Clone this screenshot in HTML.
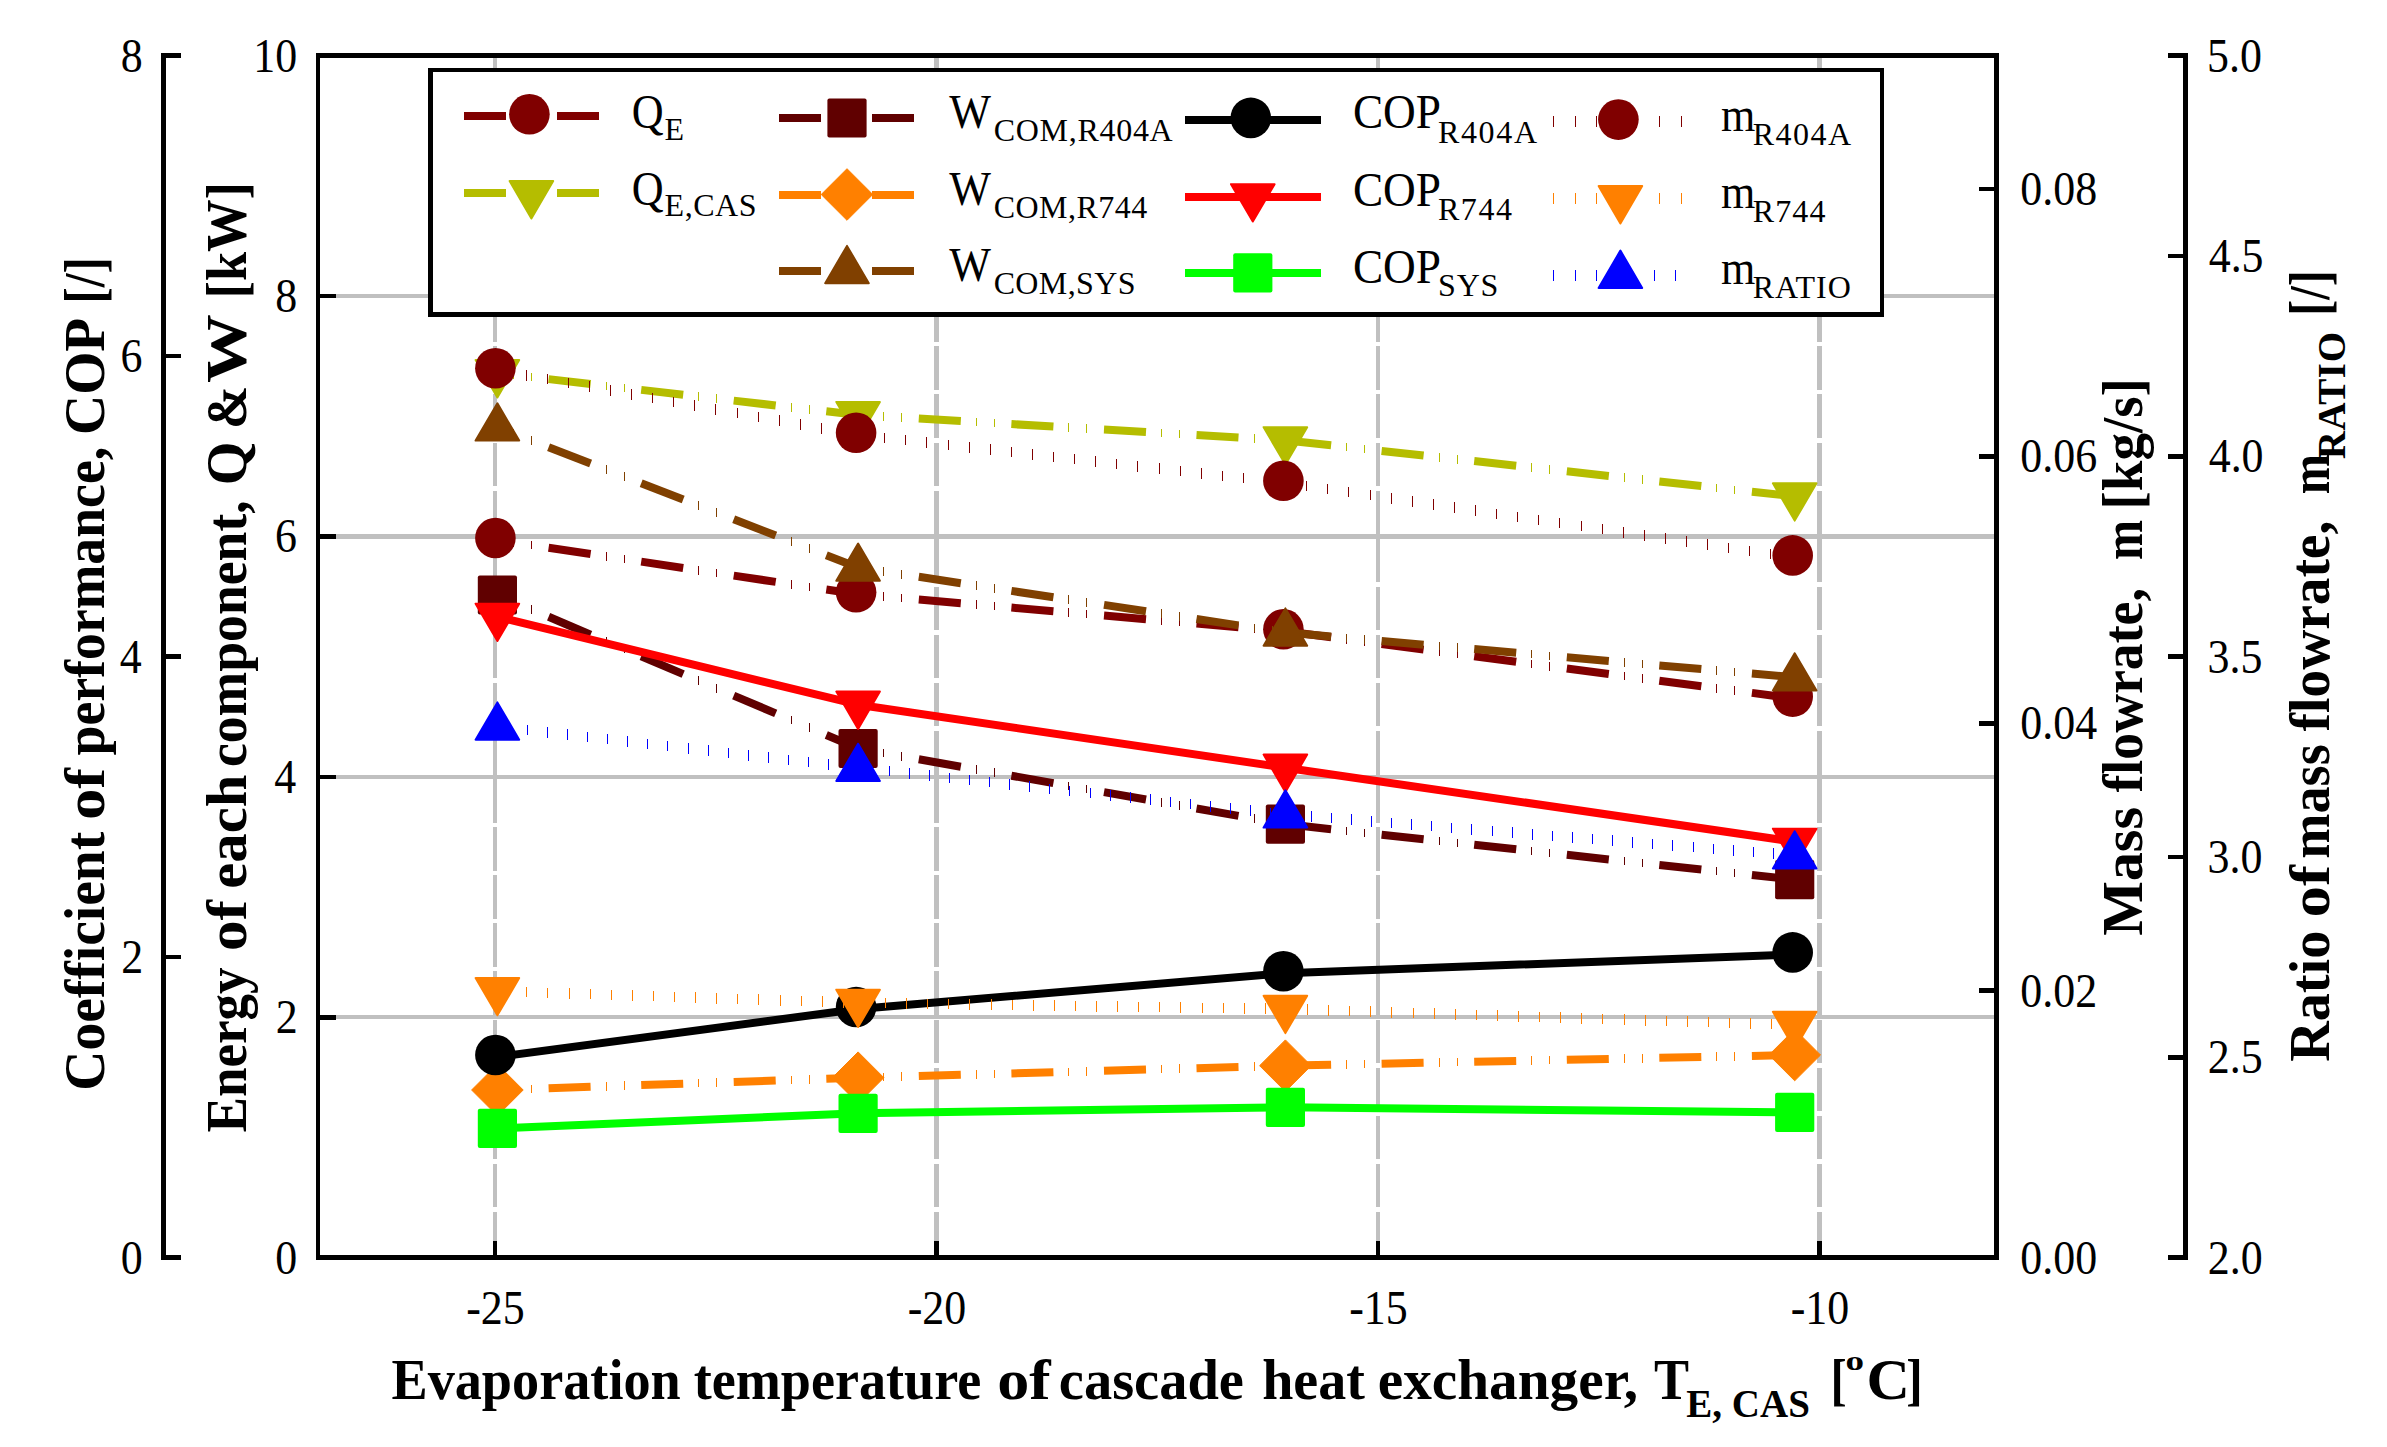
<!DOCTYPE html>
<html lang="en"><head><meta charset="utf-8"><title>Cascade refrigeration performance chart</title>
<style>html,body{margin:0;padding:0;background:#fff}svg{display:block}text{white-space:pre}</style></head>
<body>
<svg width="2387" height="1447" viewBox="0 0 2387 1447" font-family="'Liberation Serif', serif" fill="#000">
<rect x="0" y="0" width="2387" height="1447" fill="#fff"/>
<g shape-rendering="crispEdges">
<line x1="318.0" x2="1996.5" y1="1017.26" y2="1017.26" stroke="#c0c0c0" stroke-width="4.4"/>
<line x1="318.0" x2="1996.5" y1="776.82" y2="776.82" stroke="#c0c0c0" stroke-width="4.4"/>
<line x1="318.0" x2="1996.5" y1="536.38" y2="536.38" stroke="#c0c0c0" stroke-width="4.4"/>
<line x1="318.0" x2="1996.5" y1="295.94" y2="295.94" stroke="#c0c0c0" stroke-width="4.4"/>
<line x1="495.0" x2="495.0" y1="57.80" y2="1257.70" stroke="#c0c0c0" stroke-width="4.2" stroke-dasharray="43.488 4.6"/>
<line x1="936.5" x2="936.5" y1="57.80" y2="1257.70" stroke="#c0c0c0" stroke-width="4.2" stroke-dasharray="43.488 4.6"/>
<line x1="1378.0" x2="1378.0" y1="57.80" y2="1257.70" stroke="#c0c0c0" stroke-width="4.2" stroke-dasharray="43.488 4.6"/>
<line x1="1819.5" x2="1819.5" y1="57.80" y2="1257.70" stroke="#c0c0c0" stroke-width="4.2" stroke-dasharray="43.488 4.6"/>
</g>
<g>
<polyline points="497.4,540.0 498.0,540.1" fill="none" stroke="#800000" stroke-width="8.0"/><line x1="513.5" x2="513.5" y1="538.2" y2="546.7" stroke="#800000" stroke-width="1.0" shape-rendering="crispEdges"/><line x1="531.5" x2="531.5" y1="540.9" y2="549.4" stroke="#800000" stroke-width="1.0" shape-rendering="crispEdges"/><polyline points="548.6,547.7 590.6,554.0" fill="none" stroke="#800000" stroke-width="8.0"/><line x1="606.1" x2="606.1" y1="552.1" y2="560.6" stroke="#800000" stroke-width="1.0" shape-rendering="crispEdges"/><line x1="624.1" x2="624.1" y1="554.8" y2="563.3" stroke="#800000" stroke-width="1.0" shape-rendering="crispEdges"/><polyline points="641.2,561.6 683.2,568.0" fill="none" stroke="#800000" stroke-width="8.0"/><line x1="698.7" x2="698.7" y1="566.0" y2="574.5" stroke="#800000" stroke-width="1.0" shape-rendering="crispEdges"/><line x1="716.7" x2="716.7" y1="568.8" y2="577.3" stroke="#800000" stroke-width="1.0" shape-rendering="crispEdges"/><polyline points="733.7,575.6 775.7,581.9" fill="none" stroke="#800000" stroke-width="8.0"/><line x1="791.2" x2="791.2" y1="580.0" y2="588.5" stroke="#800000" stroke-width="1.0" shape-rendering="crispEdges"/><line x1="809.2" x2="809.2" y1="582.7" y2="591.2" stroke="#800000" stroke-width="1.0" shape-rendering="crispEdges"/><polyline points="826.3,589.5 858.1,594.3 868.3,595.2" fill="none" stroke="#800000" stroke-width="8.0"/><line x1="883.8" x2="883.8" y1="592.3" y2="600.8" stroke="#800000" stroke-width="1.0" shape-rendering="crispEdges"/><line x1="901.8" x2="901.8" y1="593.8" y2="602.3" stroke="#800000" stroke-width="1.0" shape-rendering="crispEdges"/><polyline points="918.8,599.6 960.8,603.2" fill="none" stroke="#800000" stroke-width="8.0"/><line x1="976.3" x2="976.3" y1="600.3" y2="608.8" stroke="#800000" stroke-width="1.0" shape-rendering="crispEdges"/><line x1="994.3" x2="994.3" y1="601.8" y2="610.3" stroke="#800000" stroke-width="1.0" shape-rendering="crispEdges"/><polyline points="1011.4,607.6 1053.4,611.2" fill="none" stroke="#800000" stroke-width="8.0"/><line x1="1068.9" x2="1068.9" y1="608.3" y2="616.8" stroke="#800000" stroke-width="1.0" shape-rendering="crispEdges"/><line x1="1086.9" x2="1086.9" y1="609.9" y2="618.4" stroke="#800000" stroke-width="1.0" shape-rendering="crispEdges"/><polyline points="1104.0,615.6 1146.0,619.2" fill="none" stroke="#800000" stroke-width="8.0"/><line x1="1161.5" x2="1161.5" y1="616.3" y2="624.8" stroke="#800000" stroke-width="1.0" shape-rendering="crispEdges"/><line x1="1179.5" x2="1179.5" y1="617.9" y2="626.4" stroke="#800000" stroke-width="1.0" shape-rendering="crispEdges"/><polyline points="1196.5,623.6 1238.5,627.2" fill="none" stroke="#800000" stroke-width="8.0"/><line x1="1254.0" x2="1254.0" y1="624.3" y2="632.8" stroke="#800000" stroke-width="1.0" shape-rendering="crispEdges"/><line x1="1272.0" x2="1272.0" y1="625.9" y2="634.4" stroke="#800000" stroke-width="1.0" shape-rendering="crispEdges"/><polyline points="1289.1,631.8 1331.1,637.3" fill="none" stroke="#800000" stroke-width="8.0"/><line x1="1346.6" x2="1346.6" y1="635.1" y2="643.6" stroke="#800000" stroke-width="1.0" shape-rendering="crispEdges"/><line x1="1364.6" x2="1364.6" y1="637.5" y2="646.0" stroke="#800000" stroke-width="1.0" shape-rendering="crispEdges"/><polyline points="1381.6,644.0 1423.6,649.6" fill="none" stroke="#800000" stroke-width="8.0"/><line x1="1439.1" x2="1439.1" y1="647.4" y2="655.9" stroke="#800000" stroke-width="1.0" shape-rendering="crispEdges"/><line x1="1457.1" x2="1457.1" y1="649.7" y2="658.2" stroke="#800000" stroke-width="1.0" shape-rendering="crispEdges"/><polyline points="1474.2,656.2 1516.2,661.8" fill="none" stroke="#800000" stroke-width="8.0"/><line x1="1531.7" x2="1531.7" y1="659.6" y2="668.1" stroke="#800000" stroke-width="1.0" shape-rendering="crispEdges"/><line x1="1549.7" x2="1549.7" y1="662.0" y2="670.5" stroke="#800000" stroke-width="1.0" shape-rendering="crispEdges"/><polyline points="1566.8,668.5 1608.8,674.0" fill="none" stroke="#800000" stroke-width="8.0"/><line x1="1624.3" x2="1624.3" y1="671.8" y2="680.3" stroke="#800000" stroke-width="1.0" shape-rendering="crispEdges"/><line x1="1642.3" x2="1642.3" y1="674.2" y2="682.7" stroke="#800000" stroke-width="1.0" shape-rendering="crispEdges"/><polyline points="1659.3,680.7 1701.3,686.3" fill="none" stroke="#800000" stroke-width="8.0"/><line x1="1716.8" x2="1716.8" y1="684.1" y2="692.6" stroke="#800000" stroke-width="1.0" shape-rendering="crispEdges"/><line x1="1734.8" x2="1734.8" y1="686.4" y2="694.9" stroke="#800000" stroke-width="1.0" shape-rendering="crispEdges"/><polyline points="1751.9,692.9 1793.9,698.5" fill="none" stroke="#800000" stroke-width="8.0"/>
<circle cx="495.4" cy="538.0" r="20.3" fill="#800000"/>
<circle cx="856.1" cy="592.3" r="20.3" fill="#800000"/>
<circle cx="1283.4" cy="629.3" r="20.3" fill="#800000"/>
<circle cx="1792.7" cy="696.6" r="20.3" fill="#800000"/>
<polyline points="497.4,373.2 498.0,373.3" fill="none" stroke="#b5bd00" stroke-width="8.0"/><line x1="513.5" x2="513.5" y1="370.8" y2="379.3" stroke="#b5bd00" stroke-width="1.0" shape-rendering="crispEdges"/><line x1="531.5" x2="531.5" y1="372.9" y2="381.4" stroke="#b5bd00" stroke-width="1.0" shape-rendering="crispEdges"/><polyline points="548.6,379.1 590.6,384.0" fill="none" stroke="#b5bd00" stroke-width="8.0"/><line x1="606.1" x2="606.1" y1="381.5" y2="390.0" stroke="#b5bd00" stroke-width="1.0" shape-rendering="crispEdges"/><line x1="624.1" x2="624.1" y1="383.6" y2="392.1" stroke="#b5bd00" stroke-width="1.0" shape-rendering="crispEdges"/><polyline points="641.2,389.9 683.2,394.7" fill="none" stroke="#b5bd00" stroke-width="8.0"/><line x1="698.7" x2="698.7" y1="392.3" y2="400.8" stroke="#b5bd00" stroke-width="1.0" shape-rendering="crispEdges"/><line x1="716.7" x2="716.7" y1="394.4" y2="402.9" stroke="#b5bd00" stroke-width="1.0" shape-rendering="crispEdges"/><polyline points="733.7,400.6 775.7,405.5" fill="none" stroke="#b5bd00" stroke-width="8.0"/><line x1="791.2" x2="791.2" y1="403.0" y2="411.5" stroke="#b5bd00" stroke-width="1.0" shape-rendering="crispEdges"/><line x1="809.2" x2="809.2" y1="405.1" y2="413.6" stroke="#b5bd00" stroke-width="1.0" shape-rendering="crispEdges"/><polyline points="826.3,411.3 858.1,415.0 868.3,415.6" fill="none" stroke="#b5bd00" stroke-width="8.0"/><line x1="883.8" x2="883.8" y1="412.3" y2="420.8" stroke="#b5bd00" stroke-width="1.0" shape-rendering="crispEdges"/><line x1="901.8" x2="901.8" y1="413.3" y2="421.8" stroke="#b5bd00" stroke-width="1.0" shape-rendering="crispEdges"/><polyline points="918.8,418.6 960.8,421.1" fill="none" stroke="#b5bd00" stroke-width="8.0"/><line x1="976.3" x2="976.3" y1="417.8" y2="426.3" stroke="#b5bd00" stroke-width="1.0" shape-rendering="crispEdges"/><line x1="994.3" x2="994.3" y1="418.8" y2="427.3" stroke="#b5bd00" stroke-width="1.0" shape-rendering="crispEdges"/><polyline points="1011.4,424.1 1053.4,426.6" fill="none" stroke="#b5bd00" stroke-width="8.0"/><line x1="1068.9" x2="1068.9" y1="423.2" y2="431.7" stroke="#b5bd00" stroke-width="1.0" shape-rendering="crispEdges"/><line x1="1086.9" x2="1086.9" y1="424.3" y2="432.8" stroke="#b5bd00" stroke-width="1.0" shape-rendering="crispEdges"/><polyline points="1104.0,429.6 1146.0,432.0" fill="none" stroke="#b5bd00" stroke-width="8.0"/><line x1="1161.5" x2="1161.5" y1="428.7" y2="437.2" stroke="#b5bd00" stroke-width="1.0" shape-rendering="crispEdges"/><line x1="1179.5" x2="1179.5" y1="429.8" y2="438.3" stroke="#b5bd00" stroke-width="1.0" shape-rendering="crispEdges"/><polyline points="1196.5,435.0 1238.5,437.5" fill="none" stroke="#b5bd00" stroke-width="8.0"/><line x1="1254.0" x2="1254.0" y1="434.2" y2="442.7" stroke="#b5bd00" stroke-width="1.0" shape-rendering="crispEdges"/><line x1="1272.0" x2="1272.0" y1="435.3" y2="443.8" stroke="#b5bd00" stroke-width="1.0" shape-rendering="crispEdges"/><polyline points="1289.1,440.7 1331.1,445.3" fill="none" stroke="#b5bd00" stroke-width="8.0"/><line x1="1346.6" x2="1346.6" y1="442.8" y2="451.3" stroke="#b5bd00" stroke-width="1.0" shape-rendering="crispEdges"/><line x1="1364.6" x2="1364.6" y1="444.8" y2="453.3" stroke="#b5bd00" stroke-width="1.0" shape-rendering="crispEdges"/><polyline points="1381.6,450.9 1423.6,455.5" fill="none" stroke="#b5bd00" stroke-width="8.0"/><line x1="1439.1" x2="1439.1" y1="453.0" y2="461.5" stroke="#b5bd00" stroke-width="1.0" shape-rendering="crispEdges"/><line x1="1457.1" x2="1457.1" y1="455.0" y2="463.5" stroke="#b5bd00" stroke-width="1.0" shape-rendering="crispEdges"/><polyline points="1474.2,461.1 1516.2,465.7" fill="none" stroke="#b5bd00" stroke-width="8.0"/><line x1="1531.7" x2="1531.7" y1="463.2" y2="471.7" stroke="#b5bd00" stroke-width="1.0" shape-rendering="crispEdges"/><line x1="1549.7" x2="1549.7" y1="465.2" y2="473.7" stroke="#b5bd00" stroke-width="1.0" shape-rendering="crispEdges"/><polyline points="1566.8,471.3 1608.8,475.9" fill="none" stroke="#b5bd00" stroke-width="8.0"/><line x1="1624.3" x2="1624.3" y1="473.4" y2="481.9" stroke="#b5bd00" stroke-width="1.0" shape-rendering="crispEdges"/><line x1="1642.3" x2="1642.3" y1="475.4" y2="483.9" stroke="#b5bd00" stroke-width="1.0" shape-rendering="crispEdges"/><polyline points="1659.3,481.5 1701.3,486.1" fill="none" stroke="#b5bd00" stroke-width="8.0"/><line x1="1716.8" x2="1716.8" y1="483.6" y2="492.1" stroke="#b5bd00" stroke-width="1.0" shape-rendering="crispEdges"/><line x1="1734.8" x2="1734.8" y1="485.6" y2="494.1" stroke="#b5bd00" stroke-width="1.0" shape-rendering="crispEdges"/><polyline points="1751.9,491.7 1793.9,496.3" fill="none" stroke="#b5bd00" stroke-width="8.0"/>
<path d="M475.6 360.1L519.2 360.1L497.4 397.4Z" fill="#b5bd00" stroke="#b5bd00" stroke-width="2" stroke-linejoin="round"/>
<path d="M836.3 401.9L879.9 401.9L858.1 439.2Z" fill="#b5bd00" stroke="#b5bd00" stroke-width="2" stroke-linejoin="round"/>
<path d="M1263.6 427.2L1307.2 427.2L1285.4 464.5Z" fill="#b5bd00" stroke="#b5bd00" stroke-width="2" stroke-linejoin="round"/>
<path d="M1772.9 483.3L1816.5 483.3L1794.7 520.6Z" fill="#b5bd00" stroke="#b5bd00" stroke-width="2" stroke-linejoin="round"/>
<polyline points="497.4,595.0 498.0,595.3" fill="none" stroke="#600000" stroke-width="8.0"/><line x1="513.5" x2="513.5" y1="597.6" y2="606.1" stroke="#600000" stroke-width="1.0" shape-rendering="crispEdges"/><line x1="531.5" x2="531.5" y1="605.3" y2="613.8" stroke="#600000" stroke-width="1.0" shape-rendering="crispEdges"/><polyline points="548.6,616.8 590.6,634.7" fill="none" stroke="#600000" stroke-width="8.0"/><line x1="606.1" x2="606.1" y1="637.0" y2="645.5" stroke="#600000" stroke-width="1.0" shape-rendering="crispEdges"/><line x1="624.1" x2="624.1" y1="644.7" y2="653.2" stroke="#600000" stroke-width="1.0" shape-rendering="crispEdges"/><polyline points="641.2,656.2 683.2,674.1" fill="none" stroke="#600000" stroke-width="8.0"/><line x1="698.7" x2="698.7" y1="676.4" y2="684.9" stroke="#600000" stroke-width="1.0" shape-rendering="crispEdges"/><line x1="716.7" x2="716.7" y1="684.1" y2="692.6" stroke="#600000" stroke-width="1.0" shape-rendering="crispEdges"/><polyline points="733.7,695.6 775.7,713.4" fill="none" stroke="#600000" stroke-width="8.0"/><line x1="791.2" x2="791.2" y1="715.8" y2="724.3" stroke="#600000" stroke-width="1.0" shape-rendering="crispEdges"/><line x1="809.2" x2="809.2" y1="723.4" y2="731.9" stroke="#600000" stroke-width="1.0" shape-rendering="crispEdges"/><polyline points="826.3,735.0 858.1,748.5 868.3,750.3" fill="none" stroke="#600000" stroke-width="8.0"/><line x1="883.8" x2="883.8" y1="748.8" y2="757.3" stroke="#600000" stroke-width="1.0" shape-rendering="crispEdges"/><line x1="901.8" x2="901.8" y1="752.0" y2="760.5" stroke="#600000" stroke-width="1.0" shape-rendering="crispEdges"/><polyline points="918.8,759.3 960.8,766.7" fill="none" stroke="#600000" stroke-width="8.0"/><line x1="976.3" x2="976.3" y1="765.2" y2="773.7" stroke="#600000" stroke-width="1.0" shape-rendering="crispEdges"/><line x1="994.3" x2="994.3" y1="768.4" y2="776.9" stroke="#600000" stroke-width="1.0" shape-rendering="crispEdges"/><polyline points="1011.4,775.7 1053.4,783.1" fill="none" stroke="#600000" stroke-width="8.0"/><line x1="1068.9" x2="1068.9" y1="781.6" y2="790.1" stroke="#600000" stroke-width="1.0" shape-rendering="crispEdges"/><line x1="1086.9" x2="1086.9" y1="784.8" y2="793.3" stroke="#600000" stroke-width="1.0" shape-rendering="crispEdges"/><polyline points="1104.0,792.1 1146.0,799.5" fill="none" stroke="#600000" stroke-width="8.0"/><line x1="1161.5" x2="1161.5" y1="798.0" y2="806.5" stroke="#600000" stroke-width="1.0" shape-rendering="crispEdges"/><line x1="1179.5" x2="1179.5" y1="801.2" y2="809.7" stroke="#600000" stroke-width="1.0" shape-rendering="crispEdges"/><polyline points="1196.5,808.5 1238.5,815.9" fill="none" stroke="#600000" stroke-width="8.0"/><line x1="1254.0" x2="1254.0" y1="814.4" y2="822.9" stroke="#600000" stroke-width="1.0" shape-rendering="crispEdges"/><line x1="1272.0" x2="1272.0" y1="817.6" y2="826.1" stroke="#600000" stroke-width="1.0" shape-rendering="crispEdges"/><polyline points="1289.1,824.6 1331.1,829.2" fill="none" stroke="#600000" stroke-width="8.0"/><line x1="1346.6" x2="1346.6" y1="826.6" y2="835.1" stroke="#600000" stroke-width="1.0" shape-rendering="crispEdges"/><line x1="1364.6" x2="1364.6" y1="828.6" y2="837.1" stroke="#600000" stroke-width="1.0" shape-rendering="crispEdges"/><polyline points="1381.6,834.7 1423.6,839.2" fill="none" stroke="#600000" stroke-width="8.0"/><line x1="1439.1" x2="1439.1" y1="836.7" y2="845.2" stroke="#600000" stroke-width="1.0" shape-rendering="crispEdges"/><line x1="1457.1" x2="1457.1" y1="838.6" y2="847.1" stroke="#600000" stroke-width="1.0" shape-rendering="crispEdges"/><polyline points="1474.2,844.7 1516.2,849.3" fill="none" stroke="#600000" stroke-width="8.0"/><line x1="1531.7" x2="1531.7" y1="846.7" y2="855.2" stroke="#600000" stroke-width="1.0" shape-rendering="crispEdges"/><line x1="1549.7" x2="1549.7" y1="848.7" y2="857.2" stroke="#600000" stroke-width="1.0" shape-rendering="crispEdges"/><polyline points="1566.8,854.8 1608.8,859.4" fill="none" stroke="#600000" stroke-width="8.0"/><line x1="1624.3" x2="1624.3" y1="856.8" y2="865.3" stroke="#600000" stroke-width="1.0" shape-rendering="crispEdges"/><line x1="1642.3" x2="1642.3" y1="858.8" y2="867.3" stroke="#600000" stroke-width="1.0" shape-rendering="crispEdges"/><polyline points="1659.3,864.9 1701.3,869.4" fill="none" stroke="#600000" stroke-width="8.0"/><line x1="1716.8" x2="1716.8" y1="866.9" y2="875.4" stroke="#600000" stroke-width="1.0" shape-rendering="crispEdges"/><line x1="1734.8" x2="1734.8" y1="868.8" y2="877.3" stroke="#600000" stroke-width="1.0" shape-rendering="crispEdges"/><polyline points="1751.9,874.9 1793.9,879.5" fill="none" stroke="#600000" stroke-width="8.0"/>
<rect x="477.8" y="575.4" width="39.2" height="39.2" rx="2" fill="#600000"/>
<rect x="838.5" y="728.9" width="39.2" height="39.2" rx="2" fill="#600000"/>
<rect x="1265.8" y="804.6" width="39.2" height="39.2" rx="2" fill="#600000"/>
<rect x="1775.1" y="860.0" width="39.2" height="39.2" rx="2" fill="#600000"/>
<polyline points="497.4,1090.0 498.0,1090.0" fill="none" stroke="#ff8000" stroke-width="8.0"/><line x1="513.5" x2="513.5" y1="1085.2" y2="1093.7" stroke="#ff8000" stroke-width="1.0" shape-rendering="crispEdges"/><line x1="531.5" x2="531.5" y1="1084.6" y2="1093.1" stroke="#ff8000" stroke-width="1.0" shape-rendering="crispEdges"/><polyline points="548.6,1088.3 590.6,1086.8" fill="none" stroke="#ff8000" stroke-width="8.0"/><line x1="606.1" x2="606.1" y1="1082.0" y2="1090.5" stroke="#ff8000" stroke-width="1.0" shape-rendering="crispEdges"/><line x1="624.1" x2="624.1" y1="1081.4" y2="1089.9" stroke="#ff8000" stroke-width="1.0" shape-rendering="crispEdges"/><polyline points="641.2,1085.1 683.2,1083.7" fill="none" stroke="#ff8000" stroke-width="8.0"/><line x1="698.7" x2="698.7" y1="1078.9" y2="1087.4" stroke="#ff8000" stroke-width="1.0" shape-rendering="crispEdges"/><line x1="716.7" x2="716.7" y1="1078.3" y2="1086.8" stroke="#ff8000" stroke-width="1.0" shape-rendering="crispEdges"/><polyline points="733.7,1081.9 775.7,1080.5" fill="none" stroke="#ff8000" stroke-width="8.0"/><line x1="791.2" x2="791.2" y1="1075.7" y2="1084.2" stroke="#ff8000" stroke-width="1.0" shape-rendering="crispEdges"/><line x1="809.2" x2="809.2" y1="1075.1" y2="1083.6" stroke="#ff8000" stroke-width="1.0" shape-rendering="crispEdges"/><polyline points="826.3,1078.8 858.1,1077.7 868.3,1077.4" fill="none" stroke="#ff8000" stroke-width="8.0"/><line x1="883.8" x2="883.8" y1="1072.7" y2="1081.2" stroke="#ff8000" stroke-width="1.0" shape-rendering="crispEdges"/><line x1="901.8" x2="901.8" y1="1072.2" y2="1080.7" stroke="#ff8000" stroke-width="1.0" shape-rendering="crispEdges"/><polyline points="918.8,1076.0 960.8,1074.8" fill="none" stroke="#ff8000" stroke-width="8.0"/><line x1="976.3" x2="976.3" y1="1070.1" y2="1078.6" stroke="#ff8000" stroke-width="1.0" shape-rendering="crispEdges"/><line x1="994.3" x2="994.3" y1="1069.6" y2="1078.1" stroke="#ff8000" stroke-width="1.0" shape-rendering="crispEdges"/><polyline points="1011.4,1073.4 1053.4,1072.2" fill="none" stroke="#ff8000" stroke-width="8.0"/><line x1="1068.9" x2="1068.9" y1="1067.5" y2="1076.0" stroke="#ff8000" stroke-width="1.0" shape-rendering="crispEdges"/><line x1="1086.9" x2="1086.9" y1="1067.0" y2="1075.5" stroke="#ff8000" stroke-width="1.0" shape-rendering="crispEdges"/><polyline points="1104.0,1070.8 1146.0,1069.6" fill="none" stroke="#ff8000" stroke-width="8.0"/><line x1="1161.5" x2="1161.5" y1="1064.9" y2="1073.4" stroke="#ff8000" stroke-width="1.0" shape-rendering="crispEdges"/><line x1="1179.5" x2="1179.5" y1="1064.4" y2="1072.9" stroke="#ff8000" stroke-width="1.0" shape-rendering="crispEdges"/><polyline points="1196.5,1068.2 1238.5,1067.0" fill="none" stroke="#ff8000" stroke-width="8.0"/><line x1="1254.0" x2="1254.0" y1="1062.3" y2="1070.8" stroke="#ff8000" stroke-width="1.0" shape-rendering="crispEdges"/><line x1="1272.0" x2="1272.0" y1="1061.8" y2="1070.3" stroke="#ff8000" stroke-width="1.0" shape-rendering="crispEdges"/><polyline points="1289.1,1065.6 1331.1,1064.7" fill="none" stroke="#ff8000" stroke-width="8.0"/><line x1="1346.6" x2="1346.6" y1="1060.2" y2="1068.7" stroke="#ff8000" stroke-width="1.0" shape-rendering="crispEdges"/><line x1="1364.6" x2="1364.6" y1="1059.8" y2="1068.3" stroke="#ff8000" stroke-width="1.0" shape-rendering="crispEdges"/><polyline points="1381.6,1063.7 1423.6,1062.8" fill="none" stroke="#ff8000" stroke-width="8.0"/><line x1="1439.1" x2="1439.1" y1="1058.2" y2="1066.7" stroke="#ff8000" stroke-width="1.0" shape-rendering="crispEdges"/><line x1="1457.1" x2="1457.1" y1="1057.8" y2="1066.3" stroke="#ff8000" stroke-width="1.0" shape-rendering="crispEdges"/><polyline points="1474.2,1061.7 1516.2,1060.9" fill="none" stroke="#ff8000" stroke-width="8.0"/><line x1="1531.7" x2="1531.7" y1="1056.3" y2="1064.8" stroke="#ff8000" stroke-width="1.0" shape-rendering="crispEdges"/><line x1="1549.7" x2="1549.7" y1="1055.9" y2="1064.4" stroke="#ff8000" stroke-width="1.0" shape-rendering="crispEdges"/><polyline points="1566.8,1059.8 1608.8,1058.9" fill="none" stroke="#ff8000" stroke-width="8.0"/><line x1="1624.3" x2="1624.3" y1="1054.3" y2="1062.8" stroke="#ff8000" stroke-width="1.0" shape-rendering="crispEdges"/><line x1="1642.3" x2="1642.3" y1="1054.0" y2="1062.5" stroke="#ff8000" stroke-width="1.0" shape-rendering="crispEdges"/><polyline points="1659.3,1057.8 1701.3,1057.0" fill="none" stroke="#ff8000" stroke-width="8.0"/><line x1="1716.8" x2="1716.8" y1="1052.4" y2="1060.9" stroke="#ff8000" stroke-width="1.0" shape-rendering="crispEdges"/><line x1="1734.8" x2="1734.8" y1="1052.0" y2="1060.5" stroke="#ff8000" stroke-width="1.0" shape-rendering="crispEdges"/><polyline points="1751.9,1055.9 1793.9,1055.0" fill="none" stroke="#ff8000" stroke-width="8.0"/>
<path d="M471.6 1090.0L497.4 1064.2L523.2 1090.0L497.4 1115.8Z" fill="#ff8000" stroke="#ff8000" stroke-width="1" stroke-linejoin="round"/>
<path d="M832.3 1077.7L858.1 1051.9L883.9 1077.7L858.1 1103.5Z" fill="#ff8000" stroke="#ff8000" stroke-width="1" stroke-linejoin="round"/>
<path d="M1259.6 1065.7L1285.4 1039.9L1311.2 1065.7L1285.4 1091.5Z" fill="#ff8000" stroke="#ff8000" stroke-width="1" stroke-linejoin="round"/>
<path d="M1768.9 1055.0L1794.7 1029.2L1820.5 1055.0L1794.7 1080.8Z" fill="#ff8000" stroke="#ff8000" stroke-width="1" stroke-linejoin="round"/>
<polyline points="497.4,427.4 498.0,427.6" fill="none" stroke="#804000" stroke-width="8.0"/><line x1="513.5" x2="513.5" y1="429.4" y2="437.9" stroke="#804000" stroke-width="1.0" shape-rendering="crispEdges"/><line x1="531.5" x2="531.5" y1="436.4" y2="444.9" stroke="#804000" stroke-width="1.0" shape-rendering="crispEdges"/><polyline points="548.6,447.3 590.6,463.6" fill="none" stroke="#804000" stroke-width="8.0"/><line x1="606.1" x2="606.1" y1="465.4" y2="473.9" stroke="#804000" stroke-width="1.0" shape-rendering="crispEdges"/><line x1="624.1" x2="624.1" y1="472.4" y2="480.9" stroke="#804000" stroke-width="1.0" shape-rendering="crispEdges"/><polyline points="641.2,483.3 683.2,499.6" fill="none" stroke="#804000" stroke-width="8.0"/><line x1="698.7" x2="698.7" y1="501.4" y2="509.9" stroke="#804000" stroke-width="1.0" shape-rendering="crispEdges"/><line x1="716.7" x2="716.7" y1="508.4" y2="516.9" stroke="#804000" stroke-width="1.0" shape-rendering="crispEdges"/><polyline points="733.7,519.3 775.7,535.6" fill="none" stroke="#804000" stroke-width="8.0"/><line x1="791.2" x2="791.2" y1="537.4" y2="545.9" stroke="#804000" stroke-width="1.0" shape-rendering="crispEdges"/><line x1="809.2" x2="809.2" y1="544.4" y2="552.9" stroke="#804000" stroke-width="1.0" shape-rendering="crispEdges"/><polyline points="826.3,555.2 858.1,567.6 868.3,569.1" fill="none" stroke="#804000" stroke-width="8.0"/><line x1="883.8" x2="883.8" y1="567.3" y2="575.8" stroke="#804000" stroke-width="1.0" shape-rendering="crispEdges"/><line x1="901.8" x2="901.8" y1="570.0" y2="578.5" stroke="#804000" stroke-width="1.0" shape-rendering="crispEdges"/><polyline points="918.8,576.8 960.8,583.2" fill="none" stroke="#804000" stroke-width="8.0"/><line x1="976.3" x2="976.3" y1="581.3" y2="589.8" stroke="#804000" stroke-width="1.0" shape-rendering="crispEdges"/><line x1="994.3" x2="994.3" y1="584.0" y2="592.5" stroke="#804000" stroke-width="1.0" shape-rendering="crispEdges"/><polyline points="1011.4,590.9 1053.4,597.3" fill="none" stroke="#804000" stroke-width="8.0"/><line x1="1068.9" x2="1068.9" y1="595.4" y2="603.9" stroke="#804000" stroke-width="1.0" shape-rendering="crispEdges"/><line x1="1086.9" x2="1086.9" y1="598.1" y2="606.6" stroke="#804000" stroke-width="1.0" shape-rendering="crispEdges"/><polyline points="1104.0,604.9 1146.0,611.3" fill="none" stroke="#804000" stroke-width="8.0"/><line x1="1161.5" x2="1161.5" y1="609.4" y2="617.9" stroke="#804000" stroke-width="1.0" shape-rendering="crispEdges"/><line x1="1179.5" x2="1179.5" y1="612.2" y2="620.7" stroke="#804000" stroke-width="1.0" shape-rendering="crispEdges"/><polyline points="1196.5,619.0 1238.5,625.4" fill="none" stroke="#804000" stroke-width="8.0"/><line x1="1254.0" x2="1254.0" y1="623.5" y2="632.0" stroke="#804000" stroke-width="1.0" shape-rendering="crispEdges"/><line x1="1272.0" x2="1272.0" y1="626.2" y2="634.7" stroke="#804000" stroke-width="1.0" shape-rendering="crispEdges"/><polyline points="1289.1,632.8 1331.1,636.5" fill="none" stroke="#804000" stroke-width="8.0"/><line x1="1346.6" x2="1346.6" y1="633.6" y2="642.1" stroke="#804000" stroke-width="1.0" shape-rendering="crispEdges"/><line x1="1364.6" x2="1364.6" y1="635.2" y2="643.7" stroke="#804000" stroke-width="1.0" shape-rendering="crispEdges"/><polyline points="1381.6,641.0 1423.6,644.7" fill="none" stroke="#804000" stroke-width="8.0"/><line x1="1439.1" x2="1439.1" y1="641.8" y2="650.3" stroke="#804000" stroke-width="1.0" shape-rendering="crispEdges"/><line x1="1457.1" x2="1457.1" y1="643.4" y2="651.9" stroke="#804000" stroke-width="1.0" shape-rendering="crispEdges"/><polyline points="1474.2,649.1 1516.2,652.8" fill="none" stroke="#804000" stroke-width="8.0"/><line x1="1531.7" x2="1531.7" y1="649.9" y2="658.4" stroke="#804000" stroke-width="1.0" shape-rendering="crispEdges"/><line x1="1549.7" x2="1549.7" y1="651.5" y2="660.0" stroke="#804000" stroke-width="1.0" shape-rendering="crispEdges"/><polyline points="1566.8,657.2 1608.8,660.9" fill="none" stroke="#804000" stroke-width="8.0"/><line x1="1624.3" x2="1624.3" y1="658.1" y2="666.6" stroke="#804000" stroke-width="1.0" shape-rendering="crispEdges"/><line x1="1642.3" x2="1642.3" y1="659.6" y2="668.1" stroke="#804000" stroke-width="1.0" shape-rendering="crispEdges"/><polyline points="1659.3,665.4 1701.3,669.1" fill="none" stroke="#804000" stroke-width="8.0"/><line x1="1716.8" x2="1716.8" y1="666.2" y2="674.7" stroke="#804000" stroke-width="1.0" shape-rendering="crispEdges"/><line x1="1734.8" x2="1734.8" y1="667.8" y2="676.3" stroke="#804000" stroke-width="1.0" shape-rendering="crispEdges"/><polyline points="1751.9,673.5 1793.9,677.2" fill="none" stroke="#804000" stroke-width="8.0"/>
<path d="M475.6 440.6L519.2 440.6L497.4 403.3Z" fill="#804000" stroke="#804000" stroke-width="2" stroke-linejoin="round"/>
<path d="M836.3 580.8L879.9 580.8L858.1 543.5Z" fill="#804000" stroke="#804000" stroke-width="2" stroke-linejoin="round"/>
<path d="M1263.6 645.7L1307.2 645.7L1285.4 608.4Z" fill="#804000" stroke="#804000" stroke-width="2" stroke-linejoin="round"/>
<path d="M1772.9 690.5L1816.5 690.5L1794.7 653.2Z" fill="#804000" stroke="#804000" stroke-width="2" stroke-linejoin="round"/>
<polyline points="497.4,1057.0 858.1,1009.0 1285.4,973.2 1794.7,954.4" fill="none" stroke="#000000" stroke-width="8.0" stroke-linejoin="round"/>
<circle cx="495.4" cy="1055.0" r="20.3" fill="#000000"/>
<circle cx="856.1" cy="1007.0" r="20.3" fill="#000000"/>
<circle cx="1283.4" cy="971.2" r="20.3" fill="#000000"/>
<circle cx="1792.7" cy="952.4" r="20.3" fill="#000000"/>
<polyline points="497.4,616.8 858.1,704.7 1285.4,767.7 1794.7,841.8" fill="none" stroke="#ff0000" stroke-width="8.0" stroke-linejoin="round"/>
<path d="M475.6 603.7L519.2 603.7L497.4 641.0Z" fill="#ff0000" stroke="#ff0000" stroke-width="2" stroke-linejoin="round"/>
<path d="M836.3 691.6L879.9 691.6L858.1 728.9Z" fill="#ff0000" stroke="#ff0000" stroke-width="2" stroke-linejoin="round"/>
<path d="M1263.6 754.6L1307.2 754.6L1285.4 791.9Z" fill="#ff0000" stroke="#ff0000" stroke-width="2" stroke-linejoin="round"/>
<path d="M1772.9 828.7L1816.5 828.7L1794.7 866.0Z" fill="#ff0000" stroke="#ff0000" stroke-width="2" stroke-linejoin="round"/>
<polyline points="497.4,1128.4 858.1,1113.3 1285.4,1107.3 1794.7,1112.4" fill="none" stroke="#00ff00" stroke-width="8.0" stroke-linejoin="round"/>
<rect x="477.8" y="1108.8" width="39.2" height="39.2" rx="2" fill="#00ff00"/>
<rect x="838.5" y="1093.7" width="39.2" height="39.2" rx="2" fill="#00ff00"/>
<rect x="1265.8" y="1087.7" width="39.2" height="39.2" rx="2" fill="#00ff00"/>
<rect x="1775.1" y="1092.8" width="39.2" height="39.2" rx="2" fill="#00ff00"/>
<line x1="504.9" x2="504.9" y1="366.3" y2="376.8" stroke="#800000" stroke-width="1.0" shape-rendering="crispEdges"/><line x1="526.0" x2="526.0" y1="370.1" y2="380.6" stroke="#800000" stroke-width="1.0" shape-rendering="crispEdges"/><line x1="547.1" x2="547.1" y1="373.9" y2="384.4" stroke="#800000" stroke-width="1.0" shape-rendering="crispEdges"/><line x1="568.2" x2="568.2" y1="377.6" y2="388.1" stroke="#800000" stroke-width="1.0" shape-rendering="crispEdges"/><line x1="589.3" x2="589.3" y1="381.4" y2="391.9" stroke="#800000" stroke-width="1.0" shape-rendering="crispEdges"/><line x1="610.4" x2="610.4" y1="385.2" y2="395.7" stroke="#800000" stroke-width="1.0" shape-rendering="crispEdges"/><line x1="631.5" x2="631.5" y1="389.0" y2="399.5" stroke="#800000" stroke-width="1.0" shape-rendering="crispEdges"/><line x1="652.6" x2="652.6" y1="392.7" y2="403.2" stroke="#800000" stroke-width="1.0" shape-rendering="crispEdges"/><line x1="673.7" x2="673.7" y1="396.5" y2="407.0" stroke="#800000" stroke-width="1.0" shape-rendering="crispEdges"/><line x1="694.8" x2="694.8" y1="400.3" y2="410.8" stroke="#800000" stroke-width="1.0" shape-rendering="crispEdges"/><line x1="715.9" x2="715.9" y1="404.1" y2="414.6" stroke="#800000" stroke-width="1.0" shape-rendering="crispEdges"/><line x1="737.0" x2="737.0" y1="407.9" y2="418.4" stroke="#800000" stroke-width="1.0" shape-rendering="crispEdges"/><line x1="758.1" x2="758.1" y1="411.6" y2="422.1" stroke="#800000" stroke-width="1.0" shape-rendering="crispEdges"/><line x1="779.2" x2="779.2" y1="415.4" y2="425.9" stroke="#800000" stroke-width="1.0" shape-rendering="crispEdges"/><line x1="800.3" x2="800.3" y1="419.2" y2="429.7" stroke="#800000" stroke-width="1.0" shape-rendering="crispEdges"/><line x1="821.4" x2="821.4" y1="423.0" y2="433.5" stroke="#800000" stroke-width="1.0" shape-rendering="crispEdges"/><line x1="842.5" x2="842.5" y1="426.8" y2="437.3" stroke="#800000" stroke-width="1.0" shape-rendering="crispEdges"/><line x1="863.6" x2="863.6" y1="430.2" y2="440.7" stroke="#800000" stroke-width="1.0" shape-rendering="crispEdges"/><line x1="884.7" x2="884.7" y1="432.5" y2="443.0" stroke="#800000" stroke-width="1.0" shape-rendering="crispEdges"/><line x1="905.8" x2="905.8" y1="434.9" y2="445.4" stroke="#800000" stroke-width="1.0" shape-rendering="crispEdges"/><line x1="926.9" x2="926.9" y1="437.3" y2="447.8" stroke="#800000" stroke-width="1.0" shape-rendering="crispEdges"/><line x1="948.0" x2="948.0" y1="439.6" y2="450.1" stroke="#800000" stroke-width="1.0" shape-rendering="crispEdges"/><line x1="969.1" x2="969.1" y1="442.0" y2="452.5" stroke="#800000" stroke-width="1.0" shape-rendering="crispEdges"/><line x1="990.2" x2="990.2" y1="444.4" y2="454.9" stroke="#800000" stroke-width="1.0" shape-rendering="crispEdges"/><line x1="1011.3" x2="1011.3" y1="446.8" y2="457.3" stroke="#800000" stroke-width="1.0" shape-rendering="crispEdges"/><line x1="1032.4" x2="1032.4" y1="449.1" y2="459.6" stroke="#800000" stroke-width="1.0" shape-rendering="crispEdges"/><line x1="1053.5" x2="1053.5" y1="451.5" y2="462.0" stroke="#800000" stroke-width="1.0" shape-rendering="crispEdges"/><line x1="1074.6" x2="1074.6" y1="453.9" y2="464.4" stroke="#800000" stroke-width="1.0" shape-rendering="crispEdges"/><line x1="1095.7" x2="1095.7" y1="456.2" y2="466.7" stroke="#800000" stroke-width="1.0" shape-rendering="crispEdges"/><line x1="1116.8" x2="1116.8" y1="458.6" y2="469.1" stroke="#800000" stroke-width="1.0" shape-rendering="crispEdges"/><line x1="1137.9" x2="1137.9" y1="461.0" y2="471.5" stroke="#800000" stroke-width="1.0" shape-rendering="crispEdges"/><line x1="1159.0" x2="1159.0" y1="463.4" y2="473.9" stroke="#800000" stroke-width="1.0" shape-rendering="crispEdges"/><line x1="1180.1" x2="1180.1" y1="465.7" y2="476.2" stroke="#800000" stroke-width="1.0" shape-rendering="crispEdges"/><line x1="1201.2" x2="1201.2" y1="468.1" y2="478.6" stroke="#800000" stroke-width="1.0" shape-rendering="crispEdges"/><line x1="1222.3" x2="1222.3" y1="470.5" y2="481.0" stroke="#800000" stroke-width="1.0" shape-rendering="crispEdges"/><line x1="1243.4" x2="1243.4" y1="472.8" y2="483.3" stroke="#800000" stroke-width="1.0" shape-rendering="crispEdges"/><line x1="1264.5" x2="1264.5" y1="475.2" y2="485.7" stroke="#800000" stroke-width="1.0" shape-rendering="crispEdges"/><line x1="1285.6" x2="1285.6" y1="477.6" y2="488.1" stroke="#800000" stroke-width="1.0" shape-rendering="crispEdges"/><line x1="1306.7" x2="1306.7" y1="480.7" y2="491.2" stroke="#800000" stroke-width="1.0" shape-rendering="crispEdges"/><line x1="1327.8" x2="1327.8" y1="483.8" y2="494.3" stroke="#800000" stroke-width="1.0" shape-rendering="crispEdges"/><line x1="1348.9" x2="1348.9" y1="486.9" y2="497.4" stroke="#800000" stroke-width="1.0" shape-rendering="crispEdges"/><line x1="1370.0" x2="1370.0" y1="489.9" y2="500.4" stroke="#800000" stroke-width="1.0" shape-rendering="crispEdges"/><line x1="1391.1" x2="1391.1" y1="493.0" y2="503.5" stroke="#800000" stroke-width="1.0" shape-rendering="crispEdges"/><line x1="1412.2" x2="1412.2" y1="496.1" y2="506.6" stroke="#800000" stroke-width="1.0" shape-rendering="crispEdges"/><line x1="1433.3" x2="1433.3" y1="499.2" y2="509.7" stroke="#800000" stroke-width="1.0" shape-rendering="crispEdges"/><line x1="1454.4" x2="1454.4" y1="502.3" y2="512.8" stroke="#800000" stroke-width="1.0" shape-rendering="crispEdges"/><line x1="1475.5" x2="1475.5" y1="505.4" y2="515.9" stroke="#800000" stroke-width="1.0" shape-rendering="crispEdges"/><line x1="1496.6" x2="1496.6" y1="508.5" y2="519.0" stroke="#800000" stroke-width="1.0" shape-rendering="crispEdges"/><line x1="1517.7" x2="1517.7" y1="511.6" y2="522.1" stroke="#800000" stroke-width="1.0" shape-rendering="crispEdges"/><line x1="1538.8" x2="1538.8" y1="514.7" y2="525.2" stroke="#800000" stroke-width="1.0" shape-rendering="crispEdges"/><line x1="1559.9" x2="1559.9" y1="517.8" y2="528.3" stroke="#800000" stroke-width="1.0" shape-rendering="crispEdges"/><line x1="1581.0" x2="1581.0" y1="520.8" y2="531.3" stroke="#800000" stroke-width="1.0" shape-rendering="crispEdges"/><line x1="1602.1" x2="1602.1" y1="523.9" y2="534.4" stroke="#800000" stroke-width="1.0" shape-rendering="crispEdges"/><line x1="1623.2" x2="1623.2" y1="527.0" y2="537.5" stroke="#800000" stroke-width="1.0" shape-rendering="crispEdges"/><line x1="1644.3" x2="1644.3" y1="530.1" y2="540.6" stroke="#800000" stroke-width="1.0" shape-rendering="crispEdges"/><line x1="1665.4" x2="1665.4" y1="533.2" y2="543.7" stroke="#800000" stroke-width="1.0" shape-rendering="crispEdges"/><line x1="1686.5" x2="1686.5" y1="536.3" y2="546.8" stroke="#800000" stroke-width="1.0" shape-rendering="crispEdges"/><line x1="1707.6" x2="1707.6" y1="539.4" y2="549.9" stroke="#800000" stroke-width="1.0" shape-rendering="crispEdges"/><line x1="1728.7" x2="1728.7" y1="542.5" y2="553.0" stroke="#800000" stroke-width="1.0" shape-rendering="crispEdges"/><line x1="1749.8" x2="1749.8" y1="545.6" y2="556.1" stroke="#800000" stroke-width="1.0" shape-rendering="crispEdges"/><line x1="1770.9" x2="1770.9" y1="548.7" y2="559.2" stroke="#800000" stroke-width="1.0" shape-rendering="crispEdges"/><line x1="1792.0" x2="1792.0" y1="551.8" y2="562.3" stroke="#800000" stroke-width="1.0" shape-rendering="crispEdges"/>
<circle cx="495.4" cy="368.2" r="20.3" fill="#800000"/>
<circle cx="856.1" cy="432.8" r="20.3" fill="#800000"/>
<circle cx="1283.4" cy="480.8" r="20.3" fill="#800000"/>
<circle cx="1792.7" cy="555.4" r="20.3" fill="#800000"/>
<line x1="505.7" x2="505.7" y1="986.1" y2="996.6" stroke="#ff8000" stroke-width="1.0" shape-rendering="crispEdges"/><line x1="526.8" x2="526.8" y1="986.8" y2="997.3" stroke="#ff8000" stroke-width="1.0" shape-rendering="crispEdges"/><line x1="547.9" x2="547.9" y1="987.5" y2="998.0" stroke="#ff8000" stroke-width="1.0" shape-rendering="crispEdges"/><line x1="569.0" x2="569.0" y1="988.2" y2="998.7" stroke="#ff8000" stroke-width="1.0" shape-rendering="crispEdges"/><line x1="590.1" x2="590.1" y1="988.9" y2="999.4" stroke="#ff8000" stroke-width="1.0" shape-rendering="crispEdges"/><line x1="611.2" x2="611.2" y1="989.5" y2="1000.0" stroke="#ff8000" stroke-width="1.0" shape-rendering="crispEdges"/><line x1="632.3" x2="632.3" y1="990.2" y2="1000.7" stroke="#ff8000" stroke-width="1.0" shape-rendering="crispEdges"/><line x1="653.4" x2="653.4" y1="990.9" y2="1001.4" stroke="#ff8000" stroke-width="1.0" shape-rendering="crispEdges"/><line x1="674.5" x2="674.5" y1="991.6" y2="1002.1" stroke="#ff8000" stroke-width="1.0" shape-rendering="crispEdges"/><line x1="695.6" x2="695.6" y1="992.3" y2="1002.8" stroke="#ff8000" stroke-width="1.0" shape-rendering="crispEdges"/><line x1="716.7" x2="716.7" y1="993.0" y2="1003.5" stroke="#ff8000" stroke-width="1.0" shape-rendering="crispEdges"/><line x1="737.8" x2="737.8" y1="993.6" y2="1004.1" stroke="#ff8000" stroke-width="1.0" shape-rendering="crispEdges"/><line x1="758.9" x2="758.9" y1="994.3" y2="1004.8" stroke="#ff8000" stroke-width="1.0" shape-rendering="crispEdges"/><line x1="780.0" x2="780.0" y1="995.0" y2="1005.5" stroke="#ff8000" stroke-width="1.0" shape-rendering="crispEdges"/><line x1="801.1" x2="801.1" y1="995.7" y2="1006.2" stroke="#ff8000" stroke-width="1.0" shape-rendering="crispEdges"/><line x1="822.2" x2="822.2" y1="996.4" y2="1006.9" stroke="#ff8000" stroke-width="1.0" shape-rendering="crispEdges"/><line x1="843.3" x2="843.3" y1="997.1" y2="1007.6" stroke="#ff8000" stroke-width="1.0" shape-rendering="crispEdges"/><line x1="864.4" x2="864.4" y1="997.6" y2="1008.1" stroke="#ff8000" stroke-width="1.0" shape-rendering="crispEdges"/><line x1="885.5" x2="885.5" y1="997.9" y2="1008.4" stroke="#ff8000" stroke-width="1.0" shape-rendering="crispEdges"/><line x1="906.6" x2="906.6" y1="998.2" y2="1008.7" stroke="#ff8000" stroke-width="1.0" shape-rendering="crispEdges"/><line x1="927.7" x2="927.7" y1="998.5" y2="1009.0" stroke="#ff8000" stroke-width="1.0" shape-rendering="crispEdges"/><line x1="948.8" x2="948.8" y1="998.8" y2="1009.3" stroke="#ff8000" stroke-width="1.0" shape-rendering="crispEdges"/><line x1="969.9" x2="969.9" y1="999.1" y2="1009.6" stroke="#ff8000" stroke-width="1.0" shape-rendering="crispEdges"/><line x1="991.0" x2="991.0" y1="999.4" y2="1009.9" stroke="#ff8000" stroke-width="1.0" shape-rendering="crispEdges"/><line x1="1012.1" x2="1012.1" y1="999.7" y2="1010.2" stroke="#ff8000" stroke-width="1.0" shape-rendering="crispEdges"/><line x1="1033.2" x2="1033.2" y1="1000.0" y2="1010.5" stroke="#ff8000" stroke-width="1.0" shape-rendering="crispEdges"/><line x1="1054.3" x2="1054.3" y1="1000.4" y2="1010.9" stroke="#ff8000" stroke-width="1.0" shape-rendering="crispEdges"/><line x1="1075.4" x2="1075.4" y1="1000.7" y2="1011.2" stroke="#ff8000" stroke-width="1.0" shape-rendering="crispEdges"/><line x1="1096.5" x2="1096.5" y1="1001.0" y2="1011.5" stroke="#ff8000" stroke-width="1.0" shape-rendering="crispEdges"/><line x1="1117.6" x2="1117.6" y1="1001.3" y2="1011.8" stroke="#ff8000" stroke-width="1.0" shape-rendering="crispEdges"/><line x1="1138.7" x2="1138.7" y1="1001.6" y2="1012.1" stroke="#ff8000" stroke-width="1.0" shape-rendering="crispEdges"/><line x1="1159.8" x2="1159.8" y1="1001.9" y2="1012.4" stroke="#ff8000" stroke-width="1.0" shape-rendering="crispEdges"/><line x1="1180.9" x2="1180.9" y1="1002.2" y2="1012.7" stroke="#ff8000" stroke-width="1.0" shape-rendering="crispEdges"/><line x1="1202.0" x2="1202.0" y1="1002.5" y2="1013.0" stroke="#ff8000" stroke-width="1.0" shape-rendering="crispEdges"/><line x1="1223.1" x2="1223.1" y1="1002.8" y2="1013.3" stroke="#ff8000" stroke-width="1.0" shape-rendering="crispEdges"/><line x1="1244.2" x2="1244.2" y1="1003.1" y2="1013.6" stroke="#ff8000" stroke-width="1.0" shape-rendering="crispEdges"/><line x1="1265.3" x2="1265.3" y1="1003.4" y2="1013.9" stroke="#ff8000" stroke-width="1.0" shape-rendering="crispEdges"/><line x1="1286.4" x2="1286.4" y1="1003.7" y2="1014.2" stroke="#ff8000" stroke-width="1.0" shape-rendering="crispEdges"/><line x1="1307.5" x2="1307.5" y1="1004.3" y2="1014.8" stroke="#ff8000" stroke-width="1.0" shape-rendering="crispEdges"/><line x1="1328.6" x2="1328.6" y1="1005.0" y2="1015.5" stroke="#ff8000" stroke-width="1.0" shape-rendering="crispEdges"/><line x1="1349.7" x2="1349.7" y1="1005.7" y2="1016.2" stroke="#ff8000" stroke-width="1.0" shape-rendering="crispEdges"/><line x1="1370.8" x2="1370.8" y1="1006.3" y2="1016.8" stroke="#ff8000" stroke-width="1.0" shape-rendering="crispEdges"/><line x1="1391.9" x2="1391.9" y1="1007.0" y2="1017.5" stroke="#ff8000" stroke-width="1.0" shape-rendering="crispEdges"/><line x1="1413.0" x2="1413.0" y1="1007.7" y2="1018.2" stroke="#ff8000" stroke-width="1.0" shape-rendering="crispEdges"/><line x1="1434.1" x2="1434.1" y1="1008.3" y2="1018.8" stroke="#ff8000" stroke-width="1.0" shape-rendering="crispEdges"/><line x1="1455.2" x2="1455.2" y1="1009.0" y2="1019.5" stroke="#ff8000" stroke-width="1.0" shape-rendering="crispEdges"/><line x1="1476.3" x2="1476.3" y1="1009.6" y2="1020.1" stroke="#ff8000" stroke-width="1.0" shape-rendering="crispEdges"/><line x1="1497.4" x2="1497.4" y1="1010.3" y2="1020.8" stroke="#ff8000" stroke-width="1.0" shape-rendering="crispEdges"/><line x1="1518.5" x2="1518.5" y1="1011.0" y2="1021.5" stroke="#ff8000" stroke-width="1.0" shape-rendering="crispEdges"/><line x1="1539.6" x2="1539.6" y1="1011.6" y2="1022.1" stroke="#ff8000" stroke-width="1.0" shape-rendering="crispEdges"/><line x1="1560.7" x2="1560.7" y1="1012.3" y2="1022.8" stroke="#ff8000" stroke-width="1.0" shape-rendering="crispEdges"/><line x1="1581.8" x2="1581.8" y1="1013.0" y2="1023.5" stroke="#ff8000" stroke-width="1.0" shape-rendering="crispEdges"/><line x1="1602.9" x2="1602.9" y1="1013.6" y2="1024.1" stroke="#ff8000" stroke-width="1.0" shape-rendering="crispEdges"/><line x1="1624.0" x2="1624.0" y1="1014.3" y2="1024.8" stroke="#ff8000" stroke-width="1.0" shape-rendering="crispEdges"/><line x1="1645.1" x2="1645.1" y1="1015.0" y2="1025.5" stroke="#ff8000" stroke-width="1.0" shape-rendering="crispEdges"/><line x1="1666.2" x2="1666.2" y1="1015.6" y2="1026.1" stroke="#ff8000" stroke-width="1.0" shape-rendering="crispEdges"/><line x1="1687.3" x2="1687.3" y1="1016.3" y2="1026.8" stroke="#ff8000" stroke-width="1.0" shape-rendering="crispEdges"/><line x1="1708.4" x2="1708.4" y1="1016.9" y2="1027.4" stroke="#ff8000" stroke-width="1.0" shape-rendering="crispEdges"/><line x1="1729.5" x2="1729.5" y1="1017.6" y2="1028.1" stroke="#ff8000" stroke-width="1.0" shape-rendering="crispEdges"/><line x1="1750.6" x2="1750.6" y1="1018.3" y2="1028.8" stroke="#ff8000" stroke-width="1.0" shape-rendering="crispEdges"/><line x1="1771.7" x2="1771.7" y1="1018.9" y2="1029.4" stroke="#ff8000" stroke-width="1.0" shape-rendering="crispEdges"/><line x1="1792.8" x2="1792.8" y1="1019.6" y2="1030.1" stroke="#ff8000" stroke-width="1.0" shape-rendering="crispEdges"/>
<path d="M475.6 978.0L519.2 978.0L497.4 1015.3Z" fill="#ff8000" stroke="#ff8000" stroke-width="2" stroke-linejoin="round"/>
<path d="M836.3 989.7L879.9 989.7L858.1 1027.0Z" fill="#ff8000" stroke="#ff8000" stroke-width="2" stroke-linejoin="round"/>
<path d="M1263.6 995.8L1307.2 995.8L1285.4 1033.1Z" fill="#ff8000" stroke="#ff8000" stroke-width="2" stroke-linejoin="round"/>
<path d="M1772.9 1011.8L1816.5 1011.8L1794.7 1049.1Z" fill="#ff8000" stroke="#ff8000" stroke-width="2" stroke-linejoin="round"/>
<line x1="507.1" x2="507.1" y1="722.4" y2="732.9" stroke="#0000ff" stroke-width="1.0" shape-rendering="crispEdges"/><line x1="527.2" x2="527.2" y1="724.7" y2="735.2" stroke="#0000ff" stroke-width="1.0" shape-rendering="crispEdges"/><line x1="547.3" x2="547.3" y1="727.0" y2="737.5" stroke="#0000ff" stroke-width="1.0" shape-rendering="crispEdges"/><line x1="567.4" x2="567.4" y1="729.3" y2="739.8" stroke="#0000ff" stroke-width="1.0" shape-rendering="crispEdges"/><line x1="587.5" x2="587.5" y1="731.6" y2="742.1" stroke="#0000ff" stroke-width="1.0" shape-rendering="crispEdges"/><line x1="607.6" x2="607.6" y1="733.9" y2="744.4" stroke="#0000ff" stroke-width="1.0" shape-rendering="crispEdges"/><line x1="627.7" x2="627.7" y1="736.2" y2="746.7" stroke="#0000ff" stroke-width="1.0" shape-rendering="crispEdges"/><line x1="647.8" x2="647.8" y1="738.5" y2="749.0" stroke="#0000ff" stroke-width="1.0" shape-rendering="crispEdges"/><line x1="667.9" x2="667.9" y1="740.8" y2="751.3" stroke="#0000ff" stroke-width="1.0" shape-rendering="crispEdges"/><line x1="688.0" x2="688.0" y1="743.1" y2="753.6" stroke="#0000ff" stroke-width="1.0" shape-rendering="crispEdges"/><line x1="708.1" x2="708.1" y1="745.4" y2="755.9" stroke="#0000ff" stroke-width="1.0" shape-rendering="crispEdges"/><line x1="728.2" x2="728.2" y1="747.7" y2="758.2" stroke="#0000ff" stroke-width="1.0" shape-rendering="crispEdges"/><line x1="748.3" x2="748.3" y1="750.0" y2="760.5" stroke="#0000ff" stroke-width="1.0" shape-rendering="crispEdges"/><line x1="768.4" x2="768.4" y1="752.3" y2="762.8" stroke="#0000ff" stroke-width="1.0" shape-rendering="crispEdges"/><line x1="788.5" x2="788.5" y1="754.6" y2="765.1" stroke="#0000ff" stroke-width="1.0" shape-rendering="crispEdges"/><line x1="808.6" x2="808.6" y1="756.9" y2="767.4" stroke="#0000ff" stroke-width="1.0" shape-rendering="crispEdges"/><line x1="828.7" x2="828.7" y1="759.2" y2="769.7" stroke="#0000ff" stroke-width="1.0" shape-rendering="crispEdges"/><line x1="848.8" x2="848.8" y1="761.5" y2="772.0" stroke="#0000ff" stroke-width="1.0" shape-rendering="crispEdges"/><line x1="868.9" x2="868.9" y1="763.7" y2="774.2" stroke="#0000ff" stroke-width="1.0" shape-rendering="crispEdges"/><line x1="889.0" x2="889.0" y1="765.9" y2="776.4" stroke="#0000ff" stroke-width="1.0" shape-rendering="crispEdges"/><line x1="909.1" x2="909.1" y1="768.1" y2="778.6" stroke="#0000ff" stroke-width="1.0" shape-rendering="crispEdges"/><line x1="929.2" x2="929.2" y1="770.3" y2="780.8" stroke="#0000ff" stroke-width="1.0" shape-rendering="crispEdges"/><line x1="949.3" x2="949.3" y1="772.5" y2="783.0" stroke="#0000ff" stroke-width="1.0" shape-rendering="crispEdges"/><line x1="969.4" x2="969.4" y1="774.7" y2="785.2" stroke="#0000ff" stroke-width="1.0" shape-rendering="crispEdges"/><line x1="989.5" x2="989.5" y1="776.9" y2="787.4" stroke="#0000ff" stroke-width="1.0" shape-rendering="crispEdges"/><line x1="1009.6" x2="1009.6" y1="779.1" y2="789.6" stroke="#0000ff" stroke-width="1.0" shape-rendering="crispEdges"/><line x1="1029.7" x2="1029.7" y1="781.3" y2="791.8" stroke="#0000ff" stroke-width="1.0" shape-rendering="crispEdges"/><line x1="1049.8" x2="1049.8" y1="783.5" y2="794.0" stroke="#0000ff" stroke-width="1.0" shape-rendering="crispEdges"/><line x1="1069.9" x2="1069.9" y1="785.6" y2="796.1" stroke="#0000ff" stroke-width="1.0" shape-rendering="crispEdges"/><line x1="1090.0" x2="1090.0" y1="787.8" y2="798.3" stroke="#0000ff" stroke-width="1.0" shape-rendering="crispEdges"/><line x1="1110.1" x2="1110.1" y1="790.0" y2="800.5" stroke="#0000ff" stroke-width="1.0" shape-rendering="crispEdges"/><line x1="1130.2" x2="1130.2" y1="792.2" y2="802.7" stroke="#0000ff" stroke-width="1.0" shape-rendering="crispEdges"/><line x1="1150.3" x2="1150.3" y1="794.4" y2="804.9" stroke="#0000ff" stroke-width="1.0" shape-rendering="crispEdges"/><line x1="1170.4" x2="1170.4" y1="796.6" y2="807.1" stroke="#0000ff" stroke-width="1.0" shape-rendering="crispEdges"/><line x1="1190.5" x2="1190.5" y1="798.8" y2="809.3" stroke="#0000ff" stroke-width="1.0" shape-rendering="crispEdges"/><line x1="1210.6" x2="1210.6" y1="801.0" y2="811.5" stroke="#0000ff" stroke-width="1.0" shape-rendering="crispEdges"/><line x1="1230.7" x2="1230.7" y1="803.2" y2="813.7" stroke="#0000ff" stroke-width="1.0" shape-rendering="crispEdges"/><line x1="1250.8" x2="1250.8" y1="805.4" y2="815.9" stroke="#0000ff" stroke-width="1.0" shape-rendering="crispEdges"/><line x1="1270.9" x2="1270.9" y1="807.6" y2="818.1" stroke="#0000ff" stroke-width="1.0" shape-rendering="crispEdges"/><line x1="1291.0" x2="1291.0" y1="809.6" y2="820.1" stroke="#0000ff" stroke-width="1.0" shape-rendering="crispEdges"/><line x1="1311.1" x2="1311.1" y1="811.2" y2="821.7" stroke="#0000ff" stroke-width="1.0" shape-rendering="crispEdges"/><line x1="1331.2" x2="1331.2" y1="812.8" y2="823.3" stroke="#0000ff" stroke-width="1.0" shape-rendering="crispEdges"/><line x1="1351.3" x2="1351.3" y1="814.4" y2="824.9" stroke="#0000ff" stroke-width="1.0" shape-rendering="crispEdges"/><line x1="1371.4" x2="1371.4" y1="816.1" y2="826.6" stroke="#0000ff" stroke-width="1.0" shape-rendering="crispEdges"/><line x1="1391.5" x2="1391.5" y1="817.7" y2="828.2" stroke="#0000ff" stroke-width="1.0" shape-rendering="crispEdges"/><line x1="1411.6" x2="1411.6" y1="819.3" y2="829.8" stroke="#0000ff" stroke-width="1.0" shape-rendering="crispEdges"/><line x1="1431.7" x2="1431.7" y1="820.9" y2="831.4" stroke="#0000ff" stroke-width="1.0" shape-rendering="crispEdges"/><line x1="1451.8" x2="1451.8" y1="822.5" y2="833.0" stroke="#0000ff" stroke-width="1.0" shape-rendering="crispEdges"/><line x1="1471.9" x2="1471.9" y1="824.1" y2="834.6" stroke="#0000ff" stroke-width="1.0" shape-rendering="crispEdges"/><line x1="1492.0" x2="1492.0" y1="825.7" y2="836.2" stroke="#0000ff" stroke-width="1.0" shape-rendering="crispEdges"/><line x1="1512.1" x2="1512.1" y1="827.4" y2="837.9" stroke="#0000ff" stroke-width="1.0" shape-rendering="crispEdges"/><line x1="1532.2" x2="1532.2" y1="829.0" y2="839.5" stroke="#0000ff" stroke-width="1.0" shape-rendering="crispEdges"/><line x1="1552.3" x2="1552.3" y1="830.6" y2="841.1" stroke="#0000ff" stroke-width="1.0" shape-rendering="crispEdges"/><line x1="1572.4" x2="1572.4" y1="832.2" y2="842.7" stroke="#0000ff" stroke-width="1.0" shape-rendering="crispEdges"/><line x1="1592.5" x2="1592.5" y1="833.8" y2="844.3" stroke="#0000ff" stroke-width="1.0" shape-rendering="crispEdges"/><line x1="1612.6" x2="1612.6" y1="835.4" y2="845.9" stroke="#0000ff" stroke-width="1.0" shape-rendering="crispEdges"/><line x1="1632.7" x2="1632.7" y1="837.0" y2="847.5" stroke="#0000ff" stroke-width="1.0" shape-rendering="crispEdges"/><line x1="1652.8" x2="1652.8" y1="838.7" y2="849.2" stroke="#0000ff" stroke-width="1.0" shape-rendering="crispEdges"/><line x1="1672.9" x2="1672.9" y1="840.3" y2="850.8" stroke="#0000ff" stroke-width="1.0" shape-rendering="crispEdges"/><line x1="1693.0" x2="1693.0" y1="841.9" y2="852.4" stroke="#0000ff" stroke-width="1.0" shape-rendering="crispEdges"/><line x1="1713.1" x2="1713.1" y1="843.5" y2="854.0" stroke="#0000ff" stroke-width="1.0" shape-rendering="crispEdges"/><line x1="1733.2" x2="1733.2" y1="845.1" y2="855.6" stroke="#0000ff" stroke-width="1.0" shape-rendering="crispEdges"/><line x1="1753.3" x2="1753.3" y1="846.7" y2="857.2" stroke="#0000ff" stroke-width="1.0" shape-rendering="crispEdges"/><line x1="1773.4" x2="1773.4" y1="848.3" y2="858.8" stroke="#0000ff" stroke-width="1.0" shape-rendering="crispEdges"/><line x1="1793.5" x2="1793.5" y1="850.0" y2="860.5" stroke="#0000ff" stroke-width="1.0" shape-rendering="crispEdges"/>
<path d="M475.6 739.7L519.2 739.7L497.4 702.4Z" fill="#0000ff" stroke="#0000ff" stroke-width="2" stroke-linejoin="round"/>
<path d="M836.3 781.0L879.9 781.0L858.1 743.7Z" fill="#0000ff" stroke="#0000ff" stroke-width="2" stroke-linejoin="round"/>
<path d="M1263.6 827.6L1307.2 827.6L1285.4 790.3Z" fill="#0000ff" stroke="#0000ff" stroke-width="2" stroke-linejoin="round"/>
<path d="M1772.9 868.5L1816.5 868.5L1794.7 831.2Z" fill="#0000ff" stroke="#0000ff" stroke-width="2" stroke-linejoin="round"/>
</g>
<rect x="430.4" y="70.2" width="1451.6" height="244.4" fill="#fff" stroke="#000" stroke-width="4.6" shape-rendering="crispEdges"/>
<line x1="463.8" x2="506.0" y1="116.0" y2="116.0" stroke="#800000" stroke-width="8.0" shape-rendering="crispEdges"/>
<line x1="557.1" x2="598.9" y1="116.0" y2="116.0" stroke="#800000" stroke-width="8.0" shape-rendering="crispEdges"/>
<circle cx="529.4" cy="114.3" r="20.3" fill="#800000"/>
<line x1="463.8" x2="506.0" y1="193.1" y2="193.1" stroke="#b5bd00" stroke-width="8.0" shape-rendering="crispEdges"/>
<line x1="557.1" x2="598.9" y1="193.1" y2="193.1" stroke="#b5bd00" stroke-width="8.0" shape-rendering="crispEdges"/>
<path d="M509.6 181.1L553.2 181.1L531.4 218.4Z" fill="#b5bd00" stroke="#b5bd00" stroke-width="2" stroke-linejoin="round"/>
<line x1="779.0" x2="821.1" y1="118.0" y2="118.0" stroke="#600000" stroke-width="8.0" shape-rendering="crispEdges"/>
<line x1="872.1" x2="914.1" y1="118.0" y2="118.0" stroke="#600000" stroke-width="8.0" shape-rendering="crispEdges"/>
<rect x="827.4" y="98.4" width="39.2" height="39.2" rx="2" fill="#600000"/>
<line x1="779.0" x2="821.1" y1="194.5" y2="194.5" stroke="#ff8000" stroke-width="8.0" shape-rendering="crispEdges"/>
<line x1="872.1" x2="914.1" y1="194.5" y2="194.5" stroke="#ff8000" stroke-width="8.0" shape-rendering="crispEdges"/>
<path d="M821.2 194.5L847.0 168.7L872.8 194.5L847.0 220.3Z" fill="#ff8000" stroke="#ff8000" stroke-width="1" stroke-linejoin="round"/>
<line x1="779.0" x2="821.1" y1="270.9" y2="270.9" stroke="#804000" stroke-width="8.0" shape-rendering="crispEdges"/>
<line x1="872.1" x2="914.1" y1="270.9" y2="270.9" stroke="#804000" stroke-width="8.0" shape-rendering="crispEdges"/>
<path d="M825.2 283.2L868.8 283.2L847.0 245.9Z" fill="#804000" stroke="#804000" stroke-width="2" stroke-linejoin="round"/>
<line x1="1185.0" x2="1321.0" y1="119.9" y2="119.9" stroke="#000000" stroke-width="8.0" shape-rendering="crispEdges"/>
<circle cx="1250.8" cy="117.9" r="20.3" fill="#000000"/>
<line x1="1185.0" x2="1321.0" y1="196.5" y2="196.5" stroke="#ff0000" stroke-width="8.0" shape-rendering="crispEdges"/>
<path d="M1231.0 184.2L1274.6 184.2L1252.8 221.5Z" fill="#ff0000" stroke="#ff0000" stroke-width="2" stroke-linejoin="round"/>
<line x1="1185.0" x2="1321.0" y1="272.8" y2="272.8" stroke="#00ff00" stroke-width="8.0" shape-rendering="crispEdges"/>
<rect x="1233.2" y="253.2" width="39.2" height="39.2" rx="2" fill="#00ff00"/>
<line x1="1553.5" x2="1553.5" y1="116.1" y2="127.1" stroke="#800000" stroke-width="1.0" shape-rendering="crispEdges"/>
<line x1="1575.0" x2="1575.0" y1="116.1" y2="127.1" stroke="#800000" stroke-width="1.0" shape-rendering="crispEdges"/>
<line x1="1596.0" x2="1596.0" y1="116.1" y2="127.1" stroke="#800000" stroke-width="1.0" shape-rendering="crispEdges"/>
<line x1="1659.8" x2="1659.8" y1="116.1" y2="127.1" stroke="#800000" stroke-width="1.0" shape-rendering="crispEdges"/>
<line x1="1681.0" x2="1681.0" y1="116.1" y2="127.1" stroke="#800000" stroke-width="1.0" shape-rendering="crispEdges"/>
<circle cx="1618.4" cy="119.6" r="20.3" fill="#800000"/>
<line x1="1553.5" x2="1553.5" y1="192.9" y2="203.9" stroke="#ff8000" stroke-width="1.0" shape-rendering="crispEdges"/>
<line x1="1575.0" x2="1575.0" y1="192.9" y2="203.9" stroke="#ff8000" stroke-width="1.0" shape-rendering="crispEdges"/>
<line x1="1596.0" x2="1596.0" y1="192.9" y2="203.9" stroke="#ff8000" stroke-width="1.0" shape-rendering="crispEdges"/>
<line x1="1659.8" x2="1659.8" y1="192.9" y2="203.9" stroke="#ff8000" stroke-width="1.0" shape-rendering="crispEdges"/>
<line x1="1681.0" x2="1681.0" y1="192.9" y2="203.9" stroke="#ff8000" stroke-width="1.0" shape-rendering="crispEdges"/>
<path d="M1598.6 186.1L1642.2 186.1L1620.4 223.4Z" fill="#ff8000" stroke="#ff8000" stroke-width="2" stroke-linejoin="round"/>
<line x1="1553.5" x2="1553.5" y1="270.1" y2="281.1" stroke="#0000ff" stroke-width="1.0" shape-rendering="crispEdges"/>
<line x1="1575.0" x2="1575.0" y1="270.1" y2="281.1" stroke="#0000ff" stroke-width="1.0" shape-rendering="crispEdges"/>
<line x1="1596.0" x2="1596.0" y1="270.1" y2="281.1" stroke="#0000ff" stroke-width="1.0" shape-rendering="crispEdges"/>
<line x1="1654.5" x2="1654.5" y1="270.1" y2="281.1" stroke="#0000ff" stroke-width="1.0" shape-rendering="crispEdges"/>
<line x1="1675.3" x2="1675.3" y1="270.1" y2="281.1" stroke="#0000ff" stroke-width="1.0" shape-rendering="crispEdges"/>
<path d="M1598.6 287.9L1642.2 287.9L1620.4 250.6Z" fill="#0000ff" stroke="#0000ff" stroke-width="2" stroke-linejoin="round"/>
<text transform="translate(631.66 128.40) scale(0.9200 1)" font-size="48">Q</text>
<text transform="translate(664.60 140.00)" font-size="32">E</text>
<text transform="translate(631.66 204.50) scale(0.9200 1)" font-size="48">Q</text>
<text transform="translate(664.60 216.00)" font-size="32" letter-spacing="0.512">E,CAS</text>
<text transform="translate(949.20 127.70) scale(0.9200 1)" font-size="48">W</text>
<text transform="translate(993.65 140.90)" font-size="32" letter-spacing="0.712">COM,R404A</text>
<text transform="translate(949.20 204.60) scale(0.9200 1)" font-size="48">W</text>
<text transform="translate(993.65 218.30)" font-size="32" letter-spacing="0.486">COM,R744</text>
<text transform="translate(949.20 280.60) scale(0.9200 1)" font-size="48">W</text>
<text transform="translate(993.65 294.00)" font-size="32" letter-spacing="0.375">COM,SYS</text>
<text transform="translate(1352.91 128.30) scale(0.9430 1)" font-size="48">COP</text>
<text transform="translate(1437.90 142.70)" font-size="32" letter-spacing="1.688">R404A</text>
<text transform="translate(1352.91 205.60) scale(0.9430 1)" font-size="48">COP</text>
<text transform="translate(1437.90 219.90)" font-size="32" letter-spacing="1.583">R744</text>
<text transform="translate(1352.91 282.50) scale(0.9430 1)" font-size="48">COP</text>
<text transform="translate(1438.10 295.80)" font-size="32" letter-spacing="0.775">SYS</text>
<text transform="translate(1720.88 131.20) scale(0.9200 1)" font-size="48">m</text>
<text transform="translate(1752.70 145.30)" font-size="32" letter-spacing="1.512">R404A</text>
<text transform="translate(1720.88 208.00) scale(0.9200 1)" font-size="48">m</text>
<text transform="translate(1752.70 222.10)" font-size="32" letter-spacing="1.117">R744</text>
<text transform="translate(1720.88 284.30) scale(0.9200 1)" font-size="48">m</text>
<text transform="translate(1752.70 298.20)" font-size="32" letter-spacing="0.962">RATIO</text>
<g stroke="#000" stroke-width="4.60" fill="none" shape-rendering="crispEdges" stroke-linecap="butt">
<rect x="318.0" y="55.5" width="1678.5" height="1202.2"/>
<line x1="318.0" x2="336.0" y1="1017.26" y2="1017.26"/>
<line x1="318.0" x2="336.0" y1="776.82" y2="776.82"/>
<line x1="318.0" x2="336.0" y1="536.38" y2="536.38"/>
<line x1="318.0" x2="336.0" y1="295.94" y2="295.94"/>
<line x1="1996.5" x2="1979.0" y1="990.54" y2="990.54"/>
<line x1="1996.5" x2="1979.0" y1="723.39" y2="723.39"/>
<line x1="1996.5" x2="1979.0" y1="456.23" y2="456.23"/>
<line x1="1996.5" x2="1979.0" y1="189.08" y2="189.08"/>
<line x1="495.0" x2="495.0" y1="1257.7" y2="1241.0" stroke-width="4.2"/>
<line x1="936.5" x2="936.5" y1="1257.7" y2="1241.0" stroke-width="4.2"/>
<line x1="1378.0" x2="1378.0" y1="1257.7" y2="1241.0" stroke-width="4.2"/>
<line x1="1819.5" x2="1819.5" y1="1257.7" y2="1241.0" stroke-width="4.2"/>
<line x1="163.5" x2="163.5" y1="53.2" y2="1260.0"/>
<line x1="163.5" x2="181.0" y1="1257.70" y2="1257.70"/>
<line x1="163.5" x2="181.0" y1="957.15" y2="957.15"/>
<line x1="163.5" x2="181.0" y1="656.60" y2="656.60"/>
<line x1="163.5" x2="181.0" y1="356.05" y2="356.05"/>
<line x1="163.5" x2="181.0" y1="55.50" y2="55.50"/>
<line x1="2185.5" x2="2185.5" y1="53.2" y2="1260.0"/>
<line x1="2185.5" x2="2168.0" y1="1257.70" y2="1257.70"/>
<line x1="2185.5" x2="2168.0" y1="1057.33" y2="1057.33"/>
<line x1="2185.5" x2="2168.0" y1="856.97" y2="856.97"/>
<line x1="2185.5" x2="2168.0" y1="656.60" y2="656.60"/>
<line x1="2185.5" x2="2168.0" y1="456.23" y2="456.23"/>
<line x1="2185.5" x2="2168.0" y1="255.87" y2="255.87"/>
<line x1="2185.5" x2="2168.0" y1="55.50" y2="55.50"/>
</g>
<text transform="translate(120.64 1273.80) scale(0.9150 1)" font-size="48">0</text>
<text transform="translate(121.33 973.25) scale(0.9150 1)" font-size="48">2</text>
<text transform="translate(119.73 672.70) scale(0.9150 1)" font-size="48">4</text>
<text transform="translate(120.41 372.15) scale(0.9150 1)" font-size="48">6</text>
<text transform="translate(120.64 71.60) scale(0.9150 1)" font-size="48">8</text>
<text transform="translate(275.14 1273.80) scale(0.9150 1)" font-size="48">0</text>
<text transform="translate(275.83 1033.36) scale(0.9150 1)" font-size="48">2</text>
<text transform="translate(274.23 792.92) scale(0.9150 1)" font-size="48">4</text>
<text transform="translate(274.91 552.48) scale(0.9150 1)" font-size="48">6</text>
<text transform="translate(275.14 312.04) scale(0.9150 1)" font-size="48">8</text>
<text transform="translate(253.18 71.60) scale(0.9150 1)" font-size="48">10</text>
<text transform="translate(466.22 1324.10) scale(0.9150 1)" font-size="48">-25</text>
<text transform="translate(907.72 1324.10) scale(0.9150 1)" font-size="48">-20</text>
<text transform="translate(1349.22 1324.10) scale(0.9150 1)" font-size="48">-15</text>
<text transform="translate(1790.72 1324.10) scale(0.9150 1)" font-size="48">-10</text>
<text transform="translate(2020.30 1273.80) scale(0.9150 1)" font-size="48">0.00</text>
<text transform="translate(2020.30 1006.64) scale(0.9150 1)" font-size="48">0.02</text>
<text transform="translate(2020.30 739.49) scale(0.9150 1)" font-size="48">0.04</text>
<text transform="translate(2020.30 472.33) scale(0.9150 1)" font-size="48">0.06</text>
<text transform="translate(2020.30 205.18) scale(0.9150 1)" font-size="48">0.08</text>
<text transform="translate(2207.77 1273.80) scale(0.9150 1)" font-size="48">2.0</text>
<text transform="translate(2207.77 1073.43) scale(0.9150 1)" font-size="48">2.5</text>
<text transform="translate(2207.54 873.07) scale(0.9150 1)" font-size="48">3.0</text>
<text transform="translate(2207.54 672.70) scale(0.9150 1)" font-size="48">3.5</text>
<text transform="translate(2208.68 472.33) scale(0.9150 1)" font-size="48">4.0</text>
<text transform="translate(2208.68 271.97) scale(0.9150 1)" font-size="48">4.5</text>
<text transform="translate(2207.08 71.60) scale(0.9150 1)" font-size="48">5.0</text>
<text transform="translate(103.60 1090.63) rotate(-90) scale(0.9570 1)" font-size="58" font-weight="bold">Coefficient</text>
<text transform="translate(103.60 819.81) rotate(-90) scale(1.0695 1)" font-size="58" font-weight="bold">of</text>
<text transform="translate(103.60 755.39) rotate(-90) scale(0.9257 1)" font-size="58" font-weight="bold">performance,</text>
<text transform="translate(103.60 434.93) rotate(-90) scale(0.9576 1)" font-size="58" font-weight="bold">COP</text>
<text transform="translate(103.60 303.73) rotate(-90) scale(0.8541 1)" font-size="58" font-weight="bold">[/]</text>
<text transform="translate(246.40 1132.41) rotate(-90) scale(0.9145 1)" font-size="58" font-weight="bold">Energy</text>
<text transform="translate(246.40 951.07) rotate(-90) scale(1.0545 1)" font-size="58" font-weight="bold">of</text>
<text transform="translate(246.40 888.72) rotate(-90) scale(1.0118 1)" font-size="58" font-weight="bold">each</text>
<text transform="translate(246.40 767.05) rotate(-90) scale(0.9252 1)" font-size="58" font-weight="bold">component,</text>
<text transform="translate(246.40 485.17) rotate(-90) scale(0.9711 1)" font-size="58" font-weight="bold">Q</text>
<text transform="translate(246.40 429.12) rotate(-90) scale(0.8970 1)" font-size="58" font-weight="bold">&amp;</text>
<text transform="translate(246.40 383.09) rotate(-90) scale(1.1893 1)" font-size="58" font-weight="bold">W</text>
<text transform="translate(246.40 298.55) rotate(-90) scale(0.9048 1)" font-size="58" font-weight="bold">[kW]</text>
<text transform="translate(2142.20 935.80) rotate(-90) scale(0.9992 1)" font-size="58" font-weight="bold">Mass</text>
<text transform="translate(2142.20 792.56) rotate(-90) scale(0.9272 1)" font-size="58" font-weight="bold">flowrate,</text>
<text transform="translate(2142.20 560.04) rotate(-90) scale(0.8284 1)" font-size="58" font-weight="bold">m</text>
<text transform="translate(2142.20 509.43) rotate(-90) scale(0.9477 1)" font-size="58" font-weight="bold">[kg/s]</text>
<text transform="translate(2329.40 1061.87) rotate(-90) scale(0.9697 1)" font-size="58" font-weight="bold">Ratio</text>
<text transform="translate(2329.40 917.44) rotate(-90) scale(1.0845 1)" font-size="58" font-weight="bold">of</text>
<text transform="translate(2329.40 858.81) rotate(-90) scale(0.9370 1)" font-size="58" font-weight="bold">mass</text>
<text transform="translate(2329.40 731.38) rotate(-90) scale(0.9552 1)" font-size="58" font-weight="bold">flowrate,</text>
<text transform="translate(2329.40 494.15) rotate(-90) scale(0.8350 1)" font-size="58" font-weight="bold">m</text>
<text transform="translate(2329.40 315.74) rotate(-90) scale(0.8324 1)" font-size="58" font-weight="bold">[/]</text>
<text transform="translate(2344.60 459.35) rotate(-90)" font-size="39" font-weight="bold" letter-spacing="0.588">RATIO</text>
<text transform="translate(391.46 1398.70) scale(0.9353 1)" font-size="58" font-weight="bold">Evaporation</text>
<text transform="translate(693.67 1398.70) scale(0.9334 1)" font-size="58" font-weight="bold">temperature</text>
<text transform="translate(997.31 1398.70) scale(1.1059 1)" font-size="58" font-weight="bold">of</text>
<text transform="translate(1058.85 1398.70) scale(0.9737 1)" font-size="58" font-weight="bold">cascade</text>
<text transform="translate(1262.15 1398.70) scale(0.9665 1)" font-size="58" font-weight="bold">heat</text>
<text transform="translate(1377.72 1398.70) scale(0.9881 1)" font-size="58" font-weight="bold">exchanger,</text>
<text transform="translate(1654.09 1398.70) scale(0.9061 1)" font-size="58" font-weight="bold">T</text>
<text transform="translate(1686.35 1417.10)" font-size="39" font-weight="bold">E, CAS</text>
<text transform="translate(1830.54 1398.70) scale(0.8385 1)" font-size="58" font-weight="bold">[</text>
<text transform="translate(1845.38 1370.20) scale(1.3250 1)" font-size="28" font-weight="bold">o</text>
<text transform="translate(1866.45 1398.70) scale(1.0360 1)" font-size="58" font-weight="bold">C</text>
<text transform="translate(1906.29 1398.70) scale(0.8538 1)" font-size="58" font-weight="bold">]</text>
</svg>
</body></html>
